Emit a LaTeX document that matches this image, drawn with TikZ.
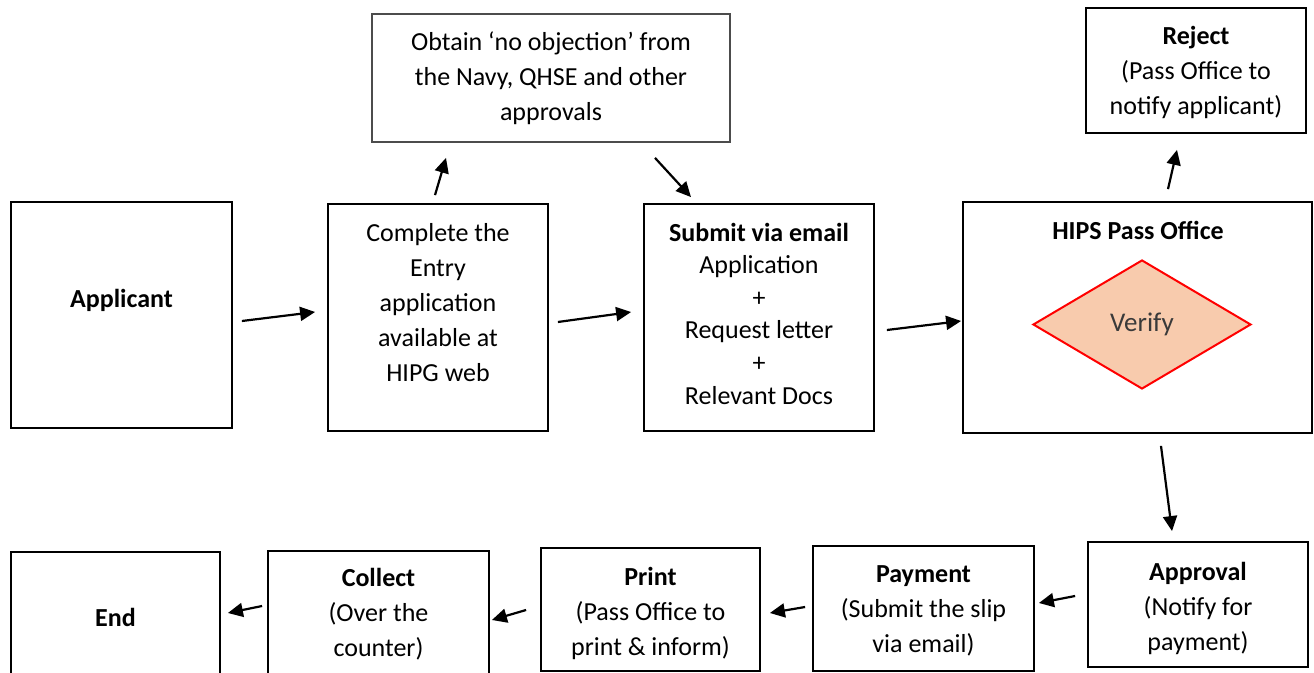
\documentclass[tikz,border=0pt]{standalone}
\usepackage{fontspec}
\setmainfont{Carlito}
\usepackage{tikz}
\usetikzlibrary{shapes.geometric,arrows.meta}
\definecolor{peach}{HTML}{F8CBAD}
\definecolor{verifygray}{HTML}{3A3A3A}

\begin{document}
\begin{tikzpicture}[x=0.5pt,y=-0.5pt,
	box/.style={draw,line width=0.9pt,inner sep=0pt},
	txt/.style={align=center,inner sep=0pt,font=\fontsize{13}{17.5}\selectfont},
	arr/.style={line width=1.1pt,-{Triangle[length=7.5pt,width=7pt]}}]
			\useasboundingbox (0,0) rectangle (1314,673);
			\node[box,minimum width=110.5pt,minimum height=113pt] (appl) at (121.5,315) {};
			\node[box,minimum width=110pt,minimum height=113.5pt] (compl) at (438,317.5) {};
			\node[box,draw=black!70,minimum width=179pt,minimum height=64pt] (obtain) at (551,78) {};
			\node[box,minimum width=115pt,minimum height=113.5pt] (submit) at (759,317.5) {};
			\node[box,minimum width=174.5pt,minimum height=115.5pt] (hips) at (1137.5,317.5) {};
			\node[box,minimum width=110pt,minimum height=62.5pt] (reject) at (1196,70.5) {};
			\node[box,minimum width=110pt,minimum height=62.5pt] (approval) at (1198,604.5) {};
			\node[box,minimum width=110.5pt,minimum height=62.5pt] (payment) at (923.5,608.5) {};
			\node[box,minimum width=109.5pt,minimum height=61.5pt] (print) at (650.5,609.5) {};
			\node[box,minimum width=110.5pt,minimum height=64.5pt] (collect) at (378.5,615.5) {};
			\node[box,minimum width=104.5pt,minimum height=65pt] (end) at (115.5,617) {};
			\node[diamond,draw=red,fill=peach,line width=1pt,inner sep=0pt,minimum width=109pt,minimum height=64.5pt,text=verifygray,font=\fontsize{13.5}{17.5}\selectfont] (verify) at (1142,324.5) {Verify};
			\node[txt] (applT) at (121.5,300) {\textbf{Applicant}};
			\node[txt] (complT) at (438,303) {Complete the\\Entry\\application\\available at\\HIPG web};
			\node[txt] (obtainT) at (551,78) {Obtain ‘no objection’ from\\the Navy, QHSE and other\\approvals};
			\node[txt,font=\fontsize{13}{16.3}\selectfont] (submitT) at (759,313.5) {\textbf{Submit via email}\\Application\\+\\Request letter\\+\\Relevant Docs};
			\node[txt] (hipsT) at (1138,230) {\textbf{HIPS Pass Office}};
			\node[txt] (rejectT) at (1196,72) {\textbf{Reject}\\(Pass Office to\\notify applicant)};
			\node[txt] (approvalT) at (1198,608) {\textbf{Approval}\\(Notify for\\payment)};
			\node[txt] (paymentT) at (923.5,611) {\textbf{Payment}\\(Submit the slip\\via email)};
			\node[txt] (printT) at (650.5,613) {\textbf{Print}\\(Pass Office to\\print \& inform)};
			\node[txt] (collectT) at (378.5,614) {\textbf{Collect}\\(Over the\\counter)};
			\node[txt] (endT) at (115.5,617) {\textbf{End}};
			\draw[arr] ([shift={(9,6)}]appl.east) -- ([shift={(-12,-5.5)}]compl.west);
			\draw[arr] ([shift={(-3,-8)}]compl.north) -- ([shift={(-105,15)}]obtain.south);
			\draw[arr] ([shift={(104,15)}]obtain.south) -- ([shift={(-68,-6)}]submit.north);
			\draw[arr] ([shift={(9,4.5)}]compl.east) -- ([shift={(-12,-5.5)}]submit.west);
			\draw[arr] ([shift={(12,12.5)}]submit.east) -- ([shift={(-1,3.5)}]hips.west);
			\draw[arr] ([shift={(30.5,-12)}]hips.north) -- ([shift={(-19,16)}]reject.south);
			\draw[arr] ([shift={(23.5,12)}]hips.south) -- ([shift={(-26,-10)}]approval.north);
			\draw[arr] ([shift={(-12,-8.5)}]approval.west) -- ([shift={(4,-5.5)}]payment.east);
			\draw[arr] ([shift={(-7,-1.5)}]payment.west) -- ([shift={(9,3.5)}]print.east);
			\draw[arr] ([shift={(-14,0.5)}]print.west) -- ([shift={(2,4.5)}]collect.east);
			\draw[arr] ([shift={(-5,-9.5)}]collect.west) -- ([shift={(7,-4)}]end.east);
\end{tikzpicture}
\end{document}
